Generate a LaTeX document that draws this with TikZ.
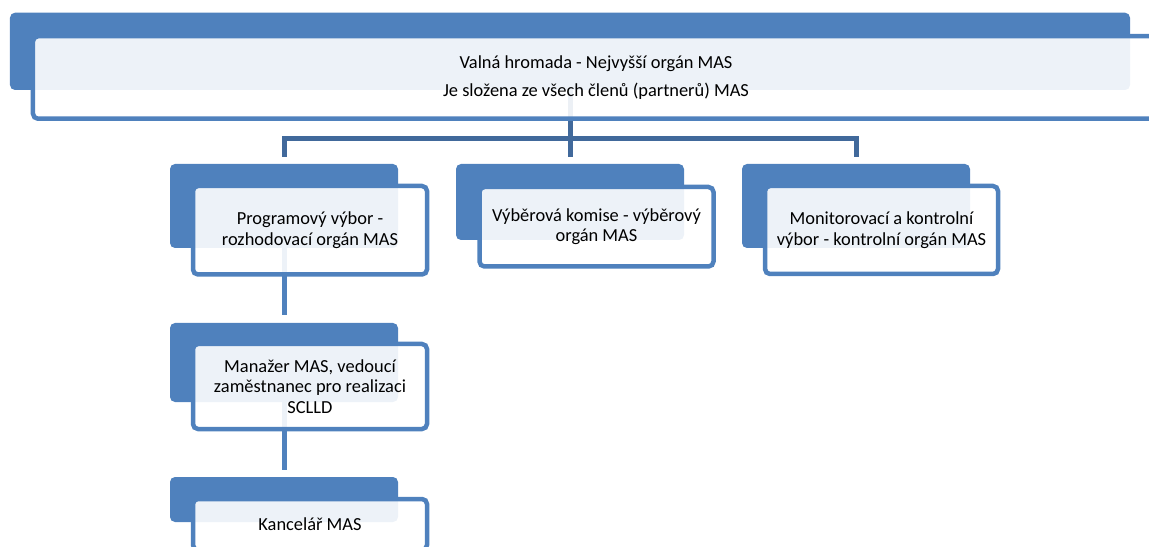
\documentclass[tikz,border=0pt]{standalone}
\usepackage{fontspec}
\setmainfont{Carlito}
\pgfdeclarelayer{bg}
\pgfsetlayers{bg,main}
\definecolor{accent}{HTML}{4F81BD}
\definecolor{conn}{HTML}{41699B}
\begin{document}
\begin{tikzpicture}[x=1bp,y=-1bp,
  back/.style={fill=accent, rounded corners=5bp, inner sep=0pt, outer sep=0pt},
  front/.style={draw=accent, line width=4.5bp, fill=white, fill opacity=0.9, text opacity=1,
    rounded corners=5bp, inner sep=0pt, align=center,
    font=\fontsize{18.4bp}{20.8bp}\selectfont},
  link/.style={line width=5bp, draw=conn},
  sublink/.style={line width=5bp, draw=accent}]
\useasboundingbox (0,0) rectangle (1149,547);
\clip (0,0) rectangle (1149,547);
% top level
\node[back, minimum width=1120bp, minimum height=77.3bp] (vhback) at (570,51.35) {};
\node[front, minimum width=1126bp, minimum height=82.5bp] (vh) at (596,77.5)
  {Valná hromada - Nejvyšší orgán MAS\\[6.5bp]Je složena ze všech členů (partnerů) MAS};
% second level
\node[back, minimum width=228bp, minimum height=84bp] (b1back) at (284,206) {};
\node[front, minimum width=234bp, minimum height=88.5bp] (b1) at (310,230.25)
  {Programový výbor -\\rozhodovací orgán MAS};
\node[back, minimum width=228bp, minimum height=76bp] (b2back) at (570,202) {};
\node[front, minimum width=234bp, minimum height=79.5bp] (b2) at (596.5,226.75)
  {Výběrová komise - výběrový\\orgán MAS};
\node[back, minimum width=228bp, minimum height=84bp] (b3back) at (856,206) {};
\node[front, minimum width=233bp, minimum height=88bp] (b3) at (881.5,230)
  {Monitorovací a kontrolní\\výbor - kontrolní orgán MAS};
% third level
\node[back, minimum width=228bp, minimum height=79bp] (mback) at (284,362.5) {};
\node[front, minimum width=234bp, minimum height=85bp] (m) at (310,386.5)
  {Manažer MAS, vedoucí\\zaměstnanec pro realizaci\\SCLLD};
% fourth level
\node[back, minimum width=228bp, minimum height=45bp] (kback) at (284,499.5) {};
\node[front, minimum width=234bp, minimum height=51bp] (k) at (310,524.5)
  {Kancelář MAS};
% connectors
\begin{pgfonlayer}{bg}
\coordinate (bar) at (0,139);
\draw[link] (vhback.center) -- ([yshift=7bp]b2back.north);
\draw[link] ([yshift=7bp]b1back.north) -- (b1back.north |- bar) -- (b3back.north |- bar) -- ([yshift=7bp]b3back.north);
\draw[sublink] (b1back.center) -- ([yshift=8bp]mback.north);
\draw[sublink] (mback.center) -- ([yshift=7bp]kback.north);
\end{pgfonlayer}
\end{tikzpicture}
\end{document}
